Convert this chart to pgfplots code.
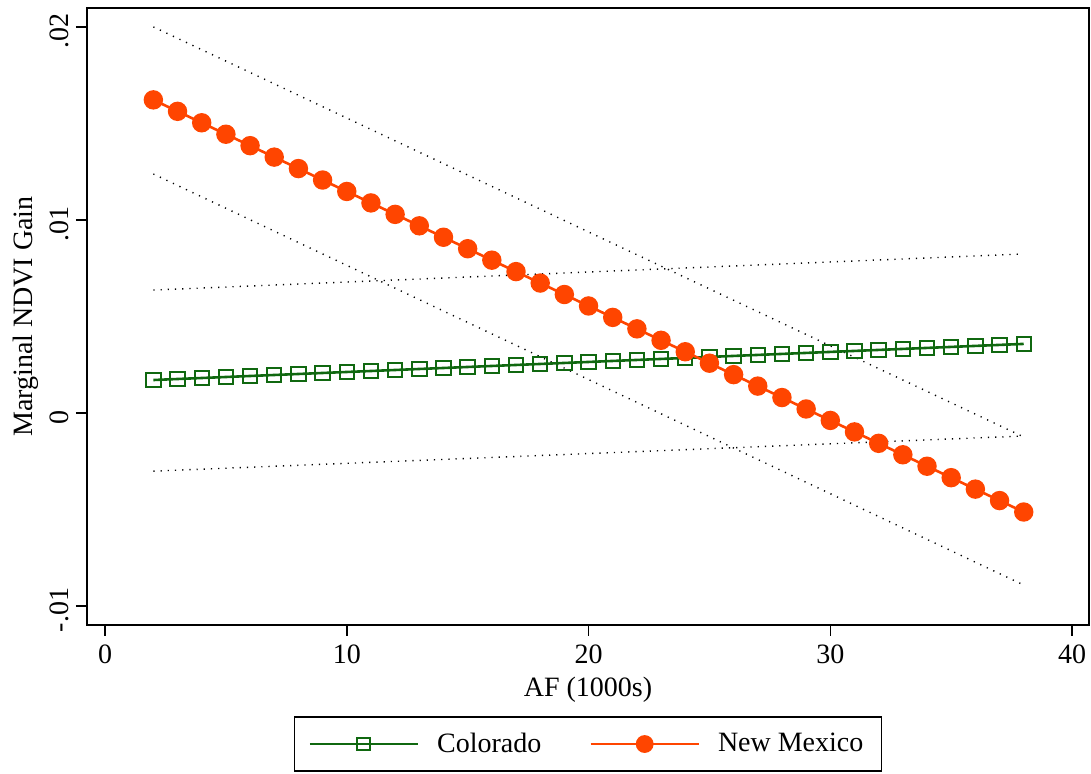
\documentclass[border=0pt]{standalone}
\usepackage{fontspec}
\setmainfont{Liberation Serif}
\usepackage{pgfplots}
\pgfplotsset{compat=1.18}
\definecolor{cogreen}{RGB}{16,104,16}
\definecolor{nmorange}{RGB}{255,69,0}
\begin{document}
\begin{tikzpicture}
\begin{axis}[
  scale only axis,
  width=501pt, height=308.5pt,
  xmin=-0.745, xmax=40.70,
  ymin=-0.01098, ymax=0.02098,
  xtick={0,10,20,30,40},
  ytick={-0.01,0,0.01,0.02},
  yticklabels={-.01,0,.01,.02},
  xtick pos=lower, ytick pos=left,
  tick align=outside,
  major tick length=5.5pt,
  every tick/.style={black, line width=0.8pt},
  axis line style={line width=0.8pt},
  font=\fontsize{14}{16}\selectfont,
  /pgf/number format/assume math mode=true,
  scaled y ticks=false,
  yticklabel style={rotate=90, anchor=south, xshift=-2pt},
  xticklabel style={yshift=-1pt},
  xlabel={AF (1000s)},
  ylabel={Marginal NDVI Gain},
  xlabel style={at={(axis description cs:0.5,-0.1053)}, anchor=center},
  ylabel style={at={(axis description cs:-0.0609,0.5)}, anchor=center},
  legend style={at={(0.5,-0.1475)}, anchor=north, legend columns=2,
    draw=black, line width=0.8pt, font=\fontsize{14}{16}\selectfont,
    inner xsep=7pt, inner ysep=6pt,
    /tikz/every odd column/.append style={column sep=7pt},
    /tikz/every even column/.append style={column sep=22pt}},
  legend cell align=left,
]
% confidence bounds
\addplot[forget plot, black, line width=0.7pt, dash pattern=on 0.6pt off 3pt] coordinates {(2,0.0200) (20,0.00938) (38,-0.00124)};
\addplot[forget plot, black, line width=0.7pt, dash pattern=on 0.6pt off 3pt] coordinates {(2,0.01238) (20,0.001735) (38,-0.00891)};
\addplot[forget plot, black, line width=0.7pt, dash pattern=on 0.6pt off 3pt] coordinates {(2,0.00637) (20,0.007305) (38,0.00824)};
\addplot[forget plot, black, line width=0.7pt, dash pattern=on 0.6pt off 3pt] coordinates {(2,-0.00301) (20,-0.0021) (38,-0.00119)};
% Colorado
\addplot[cogreen, line width=1.3pt, mark=square, mark size=3.6pt,
  mark options={line width=1pt, fill=none},
  legend image code/.code={\draw[line width=1.3pt, mark size=3.2pt, mark repeat=2, mark phase=2] plot coordinates {(0pt,0pt) (27pt,0pt) (54pt,0pt)};}]
coordinates {
(2,0.001710) (3,0.001762) (4,0.001814) (5,0.001866) (6,0.001918) (7,0.001970)
(8,0.002022) (9,0.002074) (10,0.002126) (11,0.002177) (12,0.002229) (13,0.002281)
(14,0.002333) (15,0.002385) (16,0.002437) (17,0.002489) (18,0.002541) (19,0.002593)
(20,0.002645) (21,0.002697) (22,0.002749) (23,0.002801) (24,0.002853) (25,0.002905)
(26,0.002957) (27,0.003009) (28,0.003061) (29,0.003113) (30,0.003165) (31,0.003216)
(32,0.003268) (33,0.003320) (34,0.003372) (35,0.003424) (36,0.003476) (37,0.003528)
(38,0.003580)};
\addlegendentry{Colorado}
% New Mexico
\addplot[nmorange, line width=1.3pt, mark=*, mark size=4.2pt,
  mark options={fill=nmorange, draw=nmorange},
  legend image code/.code={\draw[line width=1.3pt, mark size=3.8pt, mark repeat=2, mark phase=2] plot coordinates {(0pt,0pt) (27pt,0pt) (54pt,0pt)};}]
coordinates {
(2,0.016220) (3,0.015627) (4,0.015034) (5,0.014441) (6,0.013848) (7,0.013255)
(8,0.012662) (9,0.012069) (10,0.011476) (11,0.010883) (12,0.010290) (13,0.009697)
(14,0.009104) (15,0.008511) (16,0.007918) (17,0.007325) (18,0.006732) (19,0.006139)
(20,0.005546) (21,0.004953) (22,0.004360) (23,0.003767) (24,0.003174) (25,0.002581)
(26,0.001988) (27,0.001395) (28,0.000802) (29,0.000209) (30,-0.000384) (31,-0.000977)
(32,-0.001570) (33,-0.002163) (34,-0.002756) (35,-0.003349) (36,-0.003942) (37,-0.004535)
(38,-0.005128)};
\addlegendentry{New Mexico}
\coordinate (bbbl) at (rel axis cs:-0.08683,-0.24149);
\coordinate (bbtr) at (rel axis cs:1.002,1.01297);
\end{axis}
\pgfresetboundingbox
\useasboundingbox (bbbl) rectangle (bbtr);
\end{tikzpicture}
\end{document}
